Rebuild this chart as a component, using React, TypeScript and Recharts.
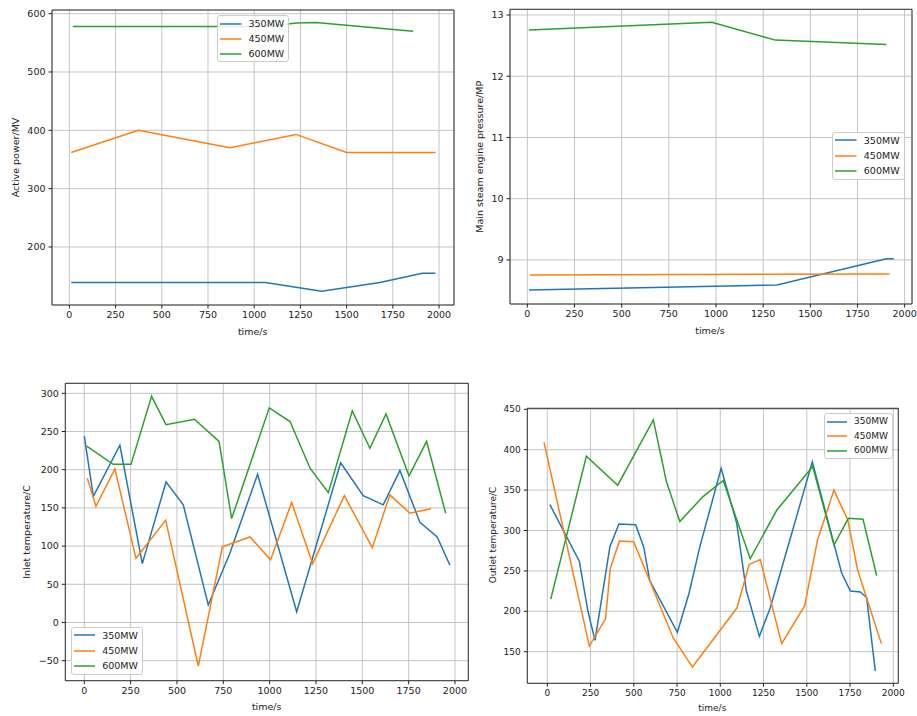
import React from 'react';
import { LineChart, Line, XAxis, YAxis, CartesianGrid, Legend, ReferenceArea } from 'recharts';

type Pt = [number, number];

const timeTicks = [0, 250, 500, 750, 1000, 1250, 1500, 1750, 2000];
const units = ['350MW', '450MW', '600MW'];
const colors = ['#1f77b4', '#ff7f0e', '#2ca02c'];

// active power / MV
const power350: Pt[] = [[10, 139], [1060, 139], [1365, 124], [1680, 139], [1910, 155], [1980, 155]];
const power450: Pt[] = [[10, 362], [373, 400], [869, 370], [1226, 393], [1500, 362], [1982, 362]];
const power600: Pt[] = [[18, 578], [1060, 578], [1230, 584], [1335, 585], [1860, 570]];
const powerTicks = [200, 300, 400, 500, 600];

// main steam pressure / MP
const press350: Pt[] = [[9, 8.51], [1323, 8.59], [1903, 9.02], [1942, 9.02]];
const press450: Pt[] = [[14, 8.755], [1920, 8.77]];
const press600: Pt[] = [[8, 12.755], [978, 12.88], [1314, 12.59], [1903, 12.52]];
const pressTicks = [9, 10, 11, 12, 13];

// inlet temperature / C
const inlet350: Pt[] = [
  [0, 244], [49, 165], [192, 232], [313, 77], [441, 184], [534, 154], [669, 23], [786, 91], [935, 194],
  [1146, 14], [1383, 209], [1505, 166], [1613, 154], [1703, 199], [1811, 131], [1904, 112], [1973, 75],
];
const inlet450: Pt[] = [
  [16, 189], [63, 152], [165, 201], [279, 84], [439, 134], [615, -57], [745, 99], [894, 112], [1005, 82],
  [1119, 157], [1232, 77], [1403, 166], [1554, 98], [1649, 167], [1757, 143], [1871, 149],
];
const inlet600: Pt[] = [
  [13, 231], [156, 207], [252, 207], [363, 296], [441, 259], [594, 266], [727, 237], [795, 136], [998, 281],
  [1110, 263], [1218, 202], [1317, 170], [1446, 277], [1541, 228], [1628, 273], [1752, 192], [1847, 237], [1950, 143],
];
const inletTicks = [-50, 0, 50, 100, 150, 200, 250, 300];

// outlet temperature / C
const outlet350: Pt[] = [
  [15, 332], [185, 262], [235, 200], [276, 164], [362, 280], [414, 308], [511, 307], [558, 279], [592, 238],
  [752, 174], [819, 222], [882, 280], [1005, 377], [1095, 309], [1150, 226], [1226, 169], [1290, 205],
  [1532, 385], [1702, 247], [1752, 225], [1810, 224], [1846, 217], [1896, 126],
];
const outlet450: Pt[] = [
  [-19, 409], [243, 157], [337, 191], [364, 253], [417, 287], [499, 286], [728, 167], [839, 131], [1096, 204],
  [1167, 258], [1231, 264], [1355, 160], [1488, 207], [1562, 288], [1657, 350], [1737, 313], [1794, 251], [1931, 160],
];
const outlet600: Pt[] = [
  [20, 215], [226, 392], [407, 356], [613, 437], [688, 361], [766, 311], [900, 342], [1017, 362], [1173, 265],
  [1326, 325], [1534, 379], [1657, 282], [1740, 315], [1825, 314], [1904, 244],
];
const outletTicks = [150, 200, 250, 300, 350, 400, 450];

const toRows = (pts: Pt[]) => pts.map(([t, v]) => ({ t, v }));
const fmt = (v: number) => (v < 0 ? '\u2212' + Math.abs(v) : String(v));

type PanelProps = {
  left: number;
  top: number;
  width: number;
  height: number;
  margin: { top: number; right: number; bottom: number; left: number };
  yWidth: number;
  xHeight: number;
  xDomain: [number, number];
  yDomain: [number, number];
  yTicks: number[];
  lines: Pt[][];
  yLabel: string;
  yLabelAt: [number, number];
  xLabelAt: [number, number];
  legendAt: [number, number];
  fontSize: number;
  sampleLen: number;
  rowH: number;
};

function LegendBox({ payload, fontSize, sampleLen, rowH }: any) {
  return (
    <div
      style={{
        border: '1px solid #cccccc',
        borderRadius: 3,
        background: 'rgba(255,255,255,0.85)',
        padding: '0 4px 0 2px',
        fontSize,
        lineHeight: 1,
      }}
    >
      {(payload || []).map((p: any) => (
        <div key={p.value} style={{ display: 'flex', alignItems: 'center', height: rowH }}>
          <svg width={sampleLen} height={4} style={{ display: 'block' }}>
            <line x1={0} x2={sampleLen} y1={2} y2={2} stroke={p.color} strokeWidth={1.5} />
          </svg>
          <span style={{ marginLeft: 7, color: '#222' }}>{p.value}</span>
        </div>
      ))}
    </div>
  );
}

function Panel(p: PanelProps) {
  const tickStyle = { fontSize: p.fontSize, fill: '#222' };
  return (
    <div style={{ position: 'absolute', left: p.left, top: p.top }}>
      <LineChart width={p.width} height={p.height} margin={p.margin}>
        <CartesianGrid stroke="#c4c4c4" strokeWidth={1} />
        <XAxis
          type="number"
          dataKey="t"
          domain={p.xDomain}
          allowDataOverflow
          ticks={timeTicks}
          interval={0}
          height={p.xHeight}
          axisLine={false}
          tickLine={{ stroke: '#222' }}
          tickSize={3.5}
          tickMargin={3}
          tick={tickStyle}
          label={{
            content: () => (
              <text x={p.xLabelAt[0]} y={p.xLabelAt[1]} textAnchor="middle" dominantBaseline="central" fontSize={p.fontSize} fill="#222">
                time/s
              </text>
            ),
          }}
        />
        <YAxis
          type="number"
          dataKey="v"
          domain={p.yDomain}
          allowDataOverflow
          ticks={p.yTicks}
          interval={0}
          width={p.yWidth}
          axisLine={false}
          tickLine={{ stroke: '#222' }}
          tickSize={3.5}
          tickMargin={3}
          tick={tickStyle}
          tickFormatter={fmt}
          label={{
            content: () => (
              <text
                x={p.yLabelAt[0]}
                y={p.yLabelAt[1]}
                transform={`rotate(-90 ${p.yLabelAt[0]} ${p.yLabelAt[1]})`}
                textAnchor="middle"
                dominantBaseline="central"
                fontSize={p.fontSize}
                fill="#222"
              >
                {p.yLabel}
              </text>
            ),
          }}
        />
        {p.lines.map((pts, i) => (
          <Line
            key={units[i]}
            data={toRows(pts)}
            dataKey="v"
            name={units[i]}
            type="linear"
            stroke={colors[i]}
            strokeWidth={1.5}
            dot={false}
            activeDot={false}
            isAnimationActive={false}
          />
        ))}
        <ReferenceArea
          x1={p.xDomain[0]}
          x2={p.xDomain[1]}
          y1={p.yDomain[0]}
          y2={p.yDomain[1]}
          fill="none"
          stroke="#222"
          strokeWidth={0.9}
          ifOverflow="visible"
        />
        <Legend
          layout="vertical"
          align="center"
          verticalAlign="middle"
          wrapperStyle={{ left: p.legendAt[0], top: p.legendAt[1], width: 'auto', height: 'auto' }}
          content={(props: any) => (
            <LegendBox payload={props.payload} fontSize={p.fontSize} sampleLen={p.sampleLen} rowH={p.rowH} />
          )}
        />
      </LineChart>
    </div>
  );
}

export default function App() {
  return (
    <div
      style={{
        position: 'absolute',
        left: 0,
        top: 0,
        width: 917,
        height: 716,
        background: '#fff',
        fontFamily: '"DejaVu Sans", sans-serif',
      }}
    >
      <Panel
        left={0}
        top={0}
        width={460}
        height={345}
        margin={{ top: 10, right: 6, bottom: 8, left: 0 }}
        yWidth={52}
        xHeight={32}
        xDomain={[-94, 2081]}
        yDomain={[100.5, 606.3]}
        yTicks={powerTicks}
        lines={[power350, power450, power600]}
        yLabel="Active power/MV"
        yLabelAt={[15, 157.5]}
        xLabelAt={[252.7, 331]}
        legendAt={[217, 15]}
        fontSize={9.5}
        sampleLen={21.5}
        rowH={15}
      />
      <Panel
        left={460}
        top={0}
        width={457}
        height={345}
        margin={{ top: 9.3, right: 5, bottom: 9, left: 0 }}
        yWidth={50}
        xHeight={32}
        xDomain={[-92, 2039]}
        yDomain={[8.28, 13.093]}
        yTicks={pressTicks}
        lines={[press350, press450, press600]}
        yLabel="Main steam engine pressure/MP"
        yLabelAt={[20, 156.7]}
        xLabelAt={[250, 330]}
        legendAt={[372.3, 131.7]}
        fontSize={9.5}
        sampleLen={21.5}
        rowH={15.3}
      />
      <Panel
        left={0}
        top={360}
        width={475}
        height={356}
        margin={{ top: 23.3, right: 6.7, bottom: 3.3, left: 0 }}
        yWidth={65.3}
        xHeight={32}
        xDomain={[-102.5, 2072]}
        yDomain={[-76.2, 313.1]}
        yTicks={inletTicks}
        lines={[inlet350, inlet450, inlet600]}
        yLabel="Inlet temperature/C"
        yLabelAt={[26.7, 172]}
        xLabelAt={[266.7, 346.7]}
        legendAt={[70.7, 266.7]}
        fontSize={9.5}
        sampleLen={21.5}
        rowH={15.3}
      />
      <Panel
        left={470}
        top={390}
        width={440}
        height={326}
        margin={{ top: 18.3, right: 11.7, bottom: 4.7, left: 0 }}
        yWidth={57.3}
        xHeight={28}
        xDomain={[-115.6, 2029]}
        yDomain={[110.9, 451.2]}
        yTicks={outletTicks}
        lines={[outlet350, outlet450, outlet600]}
        yLabel="Outlet temperature/C"
        yLabelAt={[22.7, 145]}
        xLabelAt={[242.3, 317.7]}
        legendAt={[354, 23.3]}
        fontSize={9}
        sampleLen={20}
        rowH={14.6}
      />
    </div>
  );
}
